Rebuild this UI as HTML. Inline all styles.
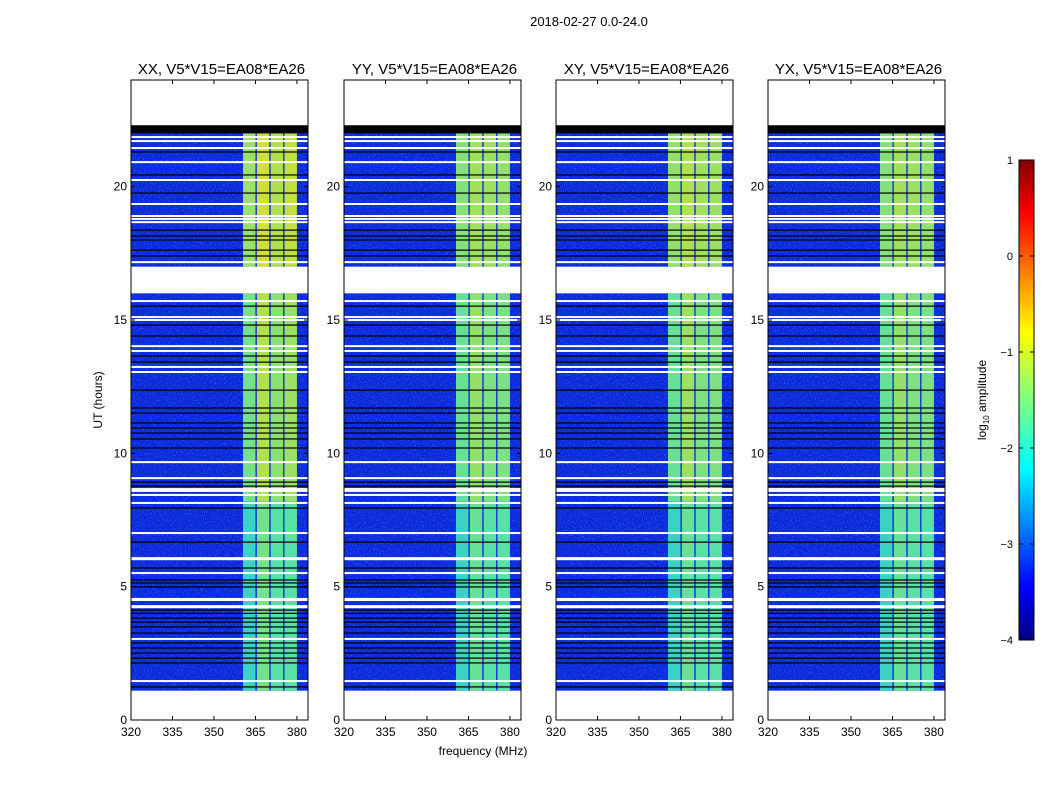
<!DOCTYPE html>
<html><head><meta charset="utf-8"><style>
body{margin:0;background:#fff;}
svg{display:block;font-family:"Liberation Sans",sans-serif;}
</style></head><body>
<svg id="c" width="1050" height="800">
<defs>
<linearGradient id="jet" x1="0" y1="1" x2="0" y2="0">
<stop offset="0" stop-color="#00007f"/><stop offset="0.11" stop-color="#0000ff"/><stop offset="0.36" stop-color="#00ffff"/><stop offset="0.5" stop-color="#7fff7f"/><stop offset="0.64" stop-color="#ffff00"/><stop offset="0.89" stop-color="#ff0000"/><stop offset="1" stop-color="#7f0000"/>
</linearGradient>
<filter id="noise" x="0" y="0" width="100%" height="100%">
<feTurbulence type="fractalNoise" baseFrequency="0.9 0.6" numOctaves="2" seed="3"/>
<feColorMatrix values="0 0 0 0 0.1  0 0 0 0 0.55  0 0 0 0 1  0 0 0 2.2 -1.15"/>
</filter>
</defs>
</svg>
<script>
const tMin=0, tMax=24, fMin=320, fMax=384;
const panels=["XX, V5*V15=EA08*EA26","YY, V5*V15=EA08*EA26","XY, V5*V15=EA08*EA26","YX, V5*V15=EA08*EA26"];
const panelX=[131,344,556,768];
const dataStart=1.1, dataEnd=22.3;
const gapWhite=[[16.0,17.0]];
const blackBand=[[22.0,22.3]];
const whiteLines=[21.86,21.71,21.45,20.92,20.25,19.35,18.9,18.79,18.67,17.17,15.71,15.11,15.0,14.02,13.84,13.24,13.05,9.67,9.07,8.66,8.59,8.44,8.14,7.01,6.07,6.03,5.51,4.54,4.5,4.27,4.23,3.04,1.46];
const blackLines=[21.3,20.44,19.76,18.37,18.15,18.0,17.62,17.4,15.52,14.81,14.4,13.65,13.42,12.37,11.7,11.51,11.14,10.95,10.76,10.54,10.2,8.92,8.77,7.95,6.67,5.7,5.25,5.14,4.99,4.12,4.0,3.82,3.67,3.49,3.26,2.89,2.7,2.51,2.32,2.14,1.24];
const subBands=[[360.5,365],[365.5,370],[370.5,375],[375.5,380]];
const bandColorsTop=[["#a8f060","#e0f028","#c0f040","#d0f030"],["#90f070","#b0f050","#a8f058","#a0f060"],["#a0f060","#c0f040","#b0f050","#a8f058"],["#90f070","#b0f050","#a8f058","#a0f060"]];
const bandColorsMid=[["#80f080","#c0f040","#98f068","#a8f058"],["#70f090","#a0f060","#88f078","#88f078"],["#70f090","#a8f058","#88f078","#88f078"],["#70f090","#a0f060","#88f078","#88f078"]];
const bandColorsLow=[["#40e0c0","#80f080","#60f0a0","#60f0a0"],["#40e0c0","#70f090","#60f0a0","#60f0a0"],["#40e0c0","#70f090","#60f0a0","#60f0a0"],["#40e0c0","#70f090","#60f0a0","#60f0a0"]];
const yTicks=[0,5,10,15,20];
const xTicks=[320,335,350,365,380];
const cbTicks=[1,0,-1,-2,-3,-4];

(function(){
const yTop=80,yBot=720,W=177;
const NS="http://www.w3.org/2000/svg";
const svg=document.getElementById('c');
function el(tag,attrs,parent){const e=document.createElementNS(NS,tag);for(const k in attrs)e.setAttribute(k,attrs[k]);(parent||svg).appendChild(e);return e;}
const y=t=>yBot-(t-tMin)/(tMax-tMin)*(yBot-yTop);
function xs(px){return f=>px+(f-fMin)/(fMax-fMin)*W;}

let t=el('text',{x:589,y:26,'text-anchor':'middle','font-size':13});


t.textContent="2018-02-27 0.0-24.0";

panels.forEach((name,pi)=>{
  const px=panelX[pi],x=xs(px);
  const g=el('g',{});
  
  
  el('rect',{x:px,y:yTop,width:W,height:yBot-yTop,fill:'#fff'},g);
  el('rect',{x:px,y:y(dataEnd),width:W,height:y(dataStart)-y(dataEnd),fill:'#0c28dc'},g);
  el('rect',{x:px,y:y(dataEnd),width:W,height:y(dataStart)-y(dataEnd),filter:'url(#noise)',opacity:0.6},g);
  subBands.forEach((b,i)=>{
    const segs=[[17,22,bandColorsTop[pi][i]],[8.2,16,bandColorsMid[pi][i]],[dataStart,8.2,bandColorsLow[pi][i]]];
    segs.forEach(s=>{const r=el('rect',{x:x(b[0]),y:y(s[1]),width:x(b[1])-x(b[0]),height:y(s[0])-y(s[1]),fill:s[2],opacity:0.92},g);
      
      });
  });
  gapWhite.forEach(r=>el('rect',{x:px,y:y(r[1]),width:W,height:y(r[0])-y(r[1]),fill:'#fff'},g));
  blackBand.forEach(r=>el('rect',{x:px,y:y(r[1]),width:W,height:y(r[0])-y(r[1]),fill:'#000'},g));
  blackLines.forEach(v=>el('rect',{x:px,y:y(v)-0.6,width:W,height:1.2,fill:'#000'},g));
  whiteLines.forEach(v=>el('rect',{x:px,y:y(v)-1,width:W,height:2,fill:'#fff'},g));
  el('rect',{x:px,y:yTop,width:W,height:yBot-yTop,fill:'none',stroke:'#000','stroke-width':1},g);
  yTicks.forEach(v=>{el('line',{x1:px,x2:px+4,y1:y(v),y2:y(v),stroke:'#000'},g);el('line',{x1:px+W-4,x2:px+W,y1:y(v),y2:y(v),stroke:'#000'},g);
    const l=el('text',{x:px-4,y:y(v)+4,'text-anchor':'end','font-size':12},g);
    
    
    l.textContent=v;});
  xTicks.forEach(v=>{el('line',{x1:x(v),x2:x(v),y1:yTop,y2:yTop+4,stroke:'#000'},g);el('line',{x1:x(v),x2:x(v),y1:yBot-4,y2:yBot,stroke:'#000'},g);
    const l=el('text',{x:x(v),y:yBot+16,'text-anchor':'middle','font-size':12},g);
    
    
    l.textContent=v;});
  const ti=el('text',{x:px+W/2+2,y:74,'text-anchor':'middle','font-size':15},g);
  
  
  ti.textContent=name;
});
let a=el('text',{x:102,y:400,'text-anchor':'middle','font-size':12,transform:'rotate(-90 102 400)'});


a.textContent="UT (hours)";
a=el('text',{x:483,y:755,'text-anchor':'middle','font-size':12});


a.textContent="frequency (MHz)";
const cb=el('g',{});


el('rect',{x:1019,y:160,width:15,height:480,fill:'url(#jet)',stroke:'#000'},cb);
const cy=v=>640-(v+4)/5*480;
cbTicks.forEach(v=>{el('line',{x1:1019,x2:1023,y1:cy(v),y2:cy(v),stroke:'#000'},cb);el('line',{x1:1030,x2:1034,y1:cy(v),y2:cy(v),stroke:'#000'},cb);
  const l=el('text',{x:1013,y:cy(v)+4,'text-anchor':'end','font-size':11},cb);
  
  
  l.textContent=v<0?'\u2212'+(-v):v;});
a=el('text',{x:986,y:400,'text-anchor':'middle','font-size':12,transform:'rotate(-90 986 400)'});


a.innerHTML='log<tspan font-size="8" dy="3">10</tspan><tspan dy="-3"> amplitude</tspan>';
})();
</script>
</body></html>
